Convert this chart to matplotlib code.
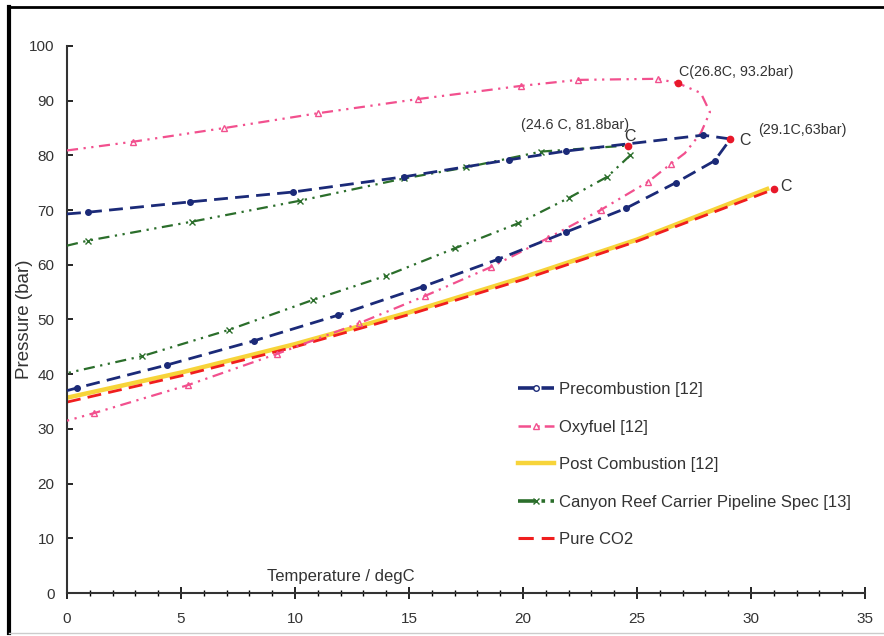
import matplotlib.pyplot as plt
from matplotlib.lines import Line2D

plt.rcParams['font.family'] = ['Liberation Sans', 'DejaVu Sans']

# Precombustion [12]  (bubble branch -> critical -> dew branch)
pre_T = [0, 0.9, 5.4, 9.9, 14.8, 19.4, 21.9, 27.9, 29.1, 28.4, 26.7, 24.5, 21.9, 18.9, 15.6, 11.9, 8.2, 4.4, 0.45, 0]
pre_P = [69.3, 69.6, 71.5, 73.3, 76.1, 79.2, 80.8, 83.7, 83.0, 79.0, 75.0, 70.3, 66.0, 61.0, 56.0, 50.8, 46.1, 41.7, 37.5, 37.0]
pre_crit = 8

# Oxyfuel [12]
oxy_T = [0, 2.9, 6.9, 11.0, 15.4, 19.9, 22.4, 25.9, 26.8, 27.8, 28.2, 27.8, 27.1, 26.5, 25.5, 23.4, 21.1, 18.6, 15.7, 12.8, 9.2, 5.3, 1.2, 0]
oxy_P = [80.9, 82.5, 85.0, 87.7, 90.3, 92.7, 93.8, 94.0, 93.2, 91.4, 87.9, 84.1, 80.4, 78.5, 75.2, 70.0, 64.9, 59.6, 54.3, 49.3, 43.7, 38.0, 32.9, 31.5]
oxy_crit = 8
oxy_marks = [1, 2, 3, 4, 5, 6, 7, 13, 14, 15, 16, 17, 18, 19, 20, 21, 22]

# Canyon Reef Carrier Pipeline Spec [13]
grn_T = [0, 0.9, 5.5, 10.2, 14.8, 17.5, 20.8, 24.6, 24.7, 23.7, 22.0, 19.8, 17.0, 14.0, 10.8, 7.1, 3.3, 0]
grn_P = [63.5, 64.4, 67.9, 71.7, 75.8, 77.8, 80.7, 81.8, 80.0, 76.1, 72.2, 67.6, 63.0, 58.0, 53.6, 48.1, 43.3, 40.2]
grn_crit = 7

# Post combustion [12] and pure CO2 vapour pressure
post_T = [0, 5, 10, 15, 20, 25, 30.8]
post_P = [35.7, 40.3, 45.5, 51.3, 57.7, 64.6, 74.0]
co2_T = [0, 5, 10, 15, 20, 25, 31.0]
co2_P = [34.9, 39.7, 45.0, 50.9, 57.3, 64.3, 73.8]

navy = '#1b2a78'
pink = '#f2508e'
green = '#2b6e2b'
yellow = '#f7d43a'
red = '#f01e1e'
txt = '#333333'

fig = plt.figure(figsize=(8.84, 6.36), dpi=100)
ax = fig.add_axes([0.0758, 0.0676, 0.9027, 0.8601])

ax.plot(pre_T, pre_P, color=navy, lw=2.0, dashes=(5, 2.6), marker='o', ms=4,
        markevery=[i for i in range(1, len(pre_T) - 1) if i != pre_crit], zorder=4)
ax.plot(oxy_T, oxy_P, color=pink, lw=1.6, dashes=(5, 2.5, 1, 2.5, 1, 2.5), marker='^', ms=4,
        mfc='none', markevery=oxy_marks, zorder=3)
ax.plot(grn_T, grn_P, color=green, lw=1.6, dashes=(5, 2.5, 1, 2.5, 1, 2.5), marker='x', ms=4.5,
        markevery=[i for i in range(1, len(grn_T) - 1) if i != grn_crit], zorder=3)
ax.plot(post_T, post_P, color=yellow, lw=3.2, solid_capstyle='butt', zorder=2)
ax.plot(co2_T, co2_P, color=red, lw=2.0, dashes=(5, 2.6), zorder=2)

# critical points
crit_T = [oxy_T[oxy_crit], pre_T[pre_crit], grn_T[grn_crit], co2_T[-1]]
crit_P = [oxy_P[oxy_crit], pre_P[pre_crit], grn_P[grn_crit], co2_P[-1]]
ax.plot(crit_T, crit_P, ls='none', marker='o', ms=4.5, color='#e8182a', zorder=5)

tk = dict(fontsize=10.3, color=txt)
ax.text(26.85, 94.0, 'C(26.8C, 93.2bar)', ha='left', va='bottom', **tk)
ax.text(19.9, 84.2, '(24.6 C, 81.8bar)', ha='left', va='bottom', **tk)
ax.text(24.45, 82.0, 'C', ha='left', va='bottom', fontsize=11.5, color=txt)
ax.text(29.5, 82.8, 'C', ha='left', va='center', fontsize=11.5, color=txt)
ax.text(30.3, 84.6, '(29.1C,63bar)', ha='left', va='center', **tk)
ax.text(31.3, 74.3, 'C', ha='left', va='center', fontsize=11.5, color=txt)

ax.text(12.0, 1.6, 'Temperature / degC', ha='center', va='bottom', fontsize=12, color=txt)
ax.set_ylabel('Pressure (bar)', fontsize=13.5, color=txt)
ax.yaxis.set_label_coords(-0.043, 0.5)

ax.set_xlim(0, 35)
ax.set_ylim(0, 100)
ax.set_xticks(range(0, 36, 5))
ax.set_xticks(range(0, 36), minor=True)
ax.set_yticks(range(0, 101, 10))
ax.tick_params(axis='x', which='major', direction='inout', length=8, width=1.2, pad=10,
               labelsize=11, labelcolor=txt)
ax.tick_params(axis='x', which='minor', direction='inout', length=5, width=1.0)
ax.tick_params(axis='y', which='major', direction='in', length=4, width=1.2, pad=9,
               labelsize=11, labelcolor=txt)
for side in ['top', 'right']:
    ax.spines[side].set_visible(False)
for side in ['left', 'bottom']:
    ax.spines[side].set_linewidth(1.5)
    ax.spines[side].set_color(txt)

handles = [
    Line2D([], [], color=navy, lw=2.6, dashes=(5, 1.5), marker='o', ms=4, mfc='white'),
    Line2D([], [], color=pink, lw=1.8, dashes=(5, 2, 1.5, 2), marker='^', ms=4, mfc='white'),
    Line2D([], [], color=yellow, lw=3.2),
    Line2D([], [], color=green, lw=2.6, dashes=(5, 1.5, 1, 1.5), marker='x', ms=4),
    Line2D([], [], color=red, lw=2.2, dashes=(5, 2.6)),
]
labels = ['Precombustion [12]', 'Oxyfuel [12]', 'Post Combustion [12]',
          'Canyon Reef Carrier Pipeline Spec [13]', 'Pure CO2']
leg = ax.legend(handles, labels, loc='upper left', bbox_to_anchor=(0.546, 0.413),
                frameon=False, fontsize=12, handlelength=2.2, handletextpad=0.3,
                labelspacing=1.35, numpoints=1)
for t in leg.get_texts():
    t.set_color(txt)

# frame around the scanned figure
fig.add_artist(Line2D([0.010, 0.010], [0.005, 0.989], color='black', lw=3))
fig.add_artist(Line2D([0.010, 1.0], [0.989, 0.989], color='black', lw=2))
fig.add_artist(Line2D([0.010, 1.0], [0.005, 0.005], color='#cccccc', lw=1))

fig.savefig('out.png', dpi=100)
